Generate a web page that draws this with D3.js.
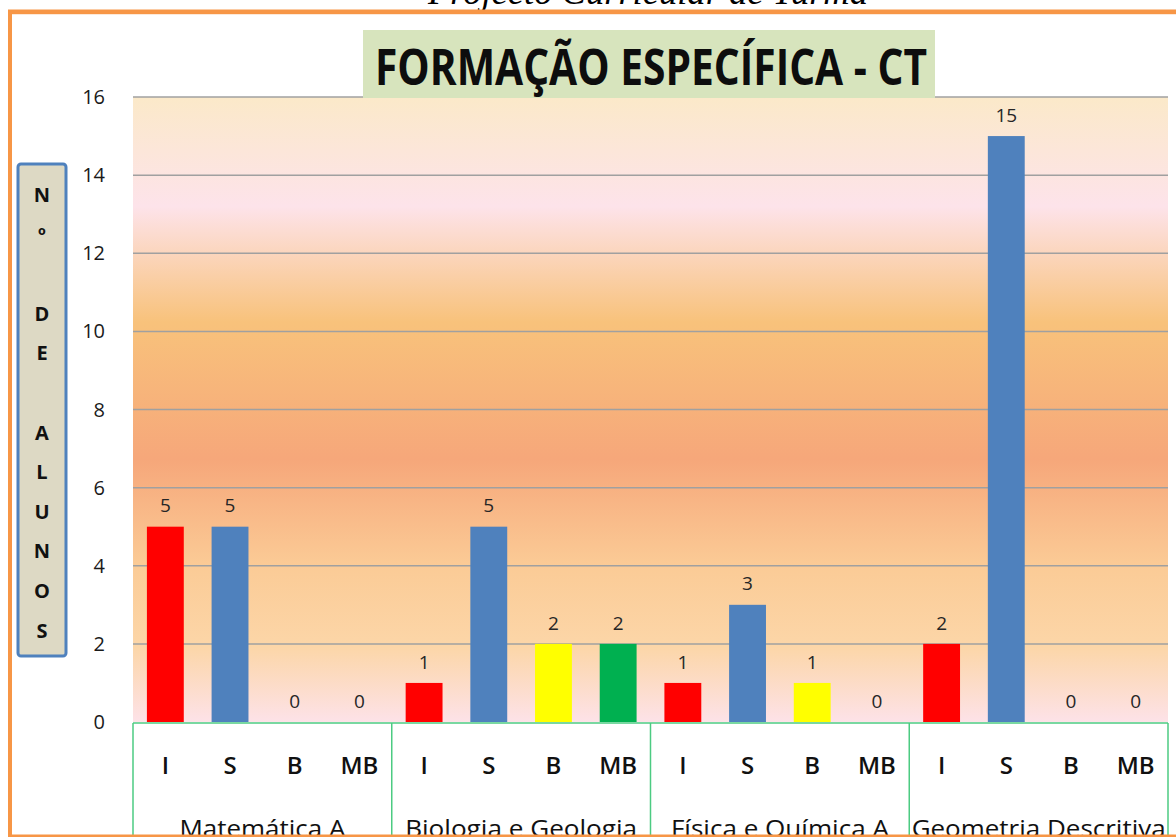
<!DOCTYPE html>
<html>
<head>
<meta charset="utf-8">
<script src="https://cdn.jsdelivr.net/npm/d3@7"></script>
<style>
  html, body { margin: 0; padding: 0; background: #fff; }
  svg { display: block; }
</style>
</head>
<body>
<svg id="chart" width="1176" height="837"></svg>
<script>
// chart data
const groups = ['Matemática A', 'Biologia e Geologia', 'Física e Química A', 'Geometria Descritiva'];
const levels = ['I', 'S', 'B', 'MB'];
const valuesI = [5, 1, 1, 2];
const valuesS = [5, 5, 3, 15];
const valuesB = [0, 2, 1, 0];
const valuesMB = [0, 2, 0, 0];
const yTicks = [0, 2, 4, 6, 8, 10, 12, 14, 16];
const yLabelLetters = ['N', 'º', '', 'D', 'E', '', 'A', 'L', 'U', 'N', 'O', 'S'];

const levelColor = { I: '#ff0000', S: '#4f81bd', B: '#ffff00', MB: '#00b050' };
const seriesByLevel = { I: valuesI, S: valuesS, B: valuesB, MB: valuesMB };

const rows = [];
groups.forEach((g, gi) => {
    levels.forEach((l) => {
        rows.push({ group: g, level: l, value: seriesByLevel[l][gi] });
    });
});

const svg = d3.select('#chart');
const plotLeft = 133, plotRight = 1168, plotTop = 97, plotBottom = 722;

const x0 = d3.scaleBand().domain(groups).range([plotLeft, plotRight]);
const x1 = d3.scaleBand().domain(levels).range([0, x0.bandwidth()])
    .paddingInner(0.43).paddingOuter(0.215);
const y = d3.scaleLinear().domain([0, 16]).range([plotBottom, plotTop]);

// background gradient of the plot area
const defs = svg.append('defs');
const grad = defs.append('linearGradient')
    .attr('id', 'bg')
    .attr('gradientUnits', 'userSpaceOnUse')
    .attr('x1', 0).attr('x2', 0).attr('y1', plotTop).attr('y2', plotBottom);
[
    [0, '#fbe9c9'], [0.175, '#fde3ea'], [0.36, '#f8c27b'], [0.58, '#f6a77a'],
    [0.75, '#fbcb96'], [0.88, '#fcd6a8'], [1, '#fde2e8']
].forEach(s => grad.append('stop').attr('offset', s[0]).attr('stop-color', s[1]));

// page header (cut by the top edge, as in the scan)
svg.append('text')
    .attr('x', 648).attr('y', 4)
    .attr('text-anchor', 'middle')
    .attr('font-family', '"Liberation Serif", "DejaVu Serif", serif')
    .attr('font-style', 'italic')
    .attr('font-size', 36)
    .attr('textLength', 440)
    .attr('lengthAdjust', 'spacingAndGlyphs')
    .text('Projecto Curricular de Turma');

// orange frame
svg.append('line').attr('x1', 8).attr('x2', 1176).attr('y1', 12).attr('y2', 12)
    .attr('stroke', '#f79646').attr('stroke-width', 5);
svg.append('line').attr('x1', 1176).attr('x2', 10).attr('y1', 14.5).attr('y2', 14.5)
    .attr('stroke', '#fde9d9').attr('stroke-width', 1);
svg.append('line').attr('x1', 10).attr('x2', 10).attr('y1', 10).attr('y2', 837)
    .attr('stroke', '#f79646').attr('stroke-width', 4);

// plot background
svg.append('rect')
    .attr('x', plotLeft).attr('y', plotTop)
    .attr('width', plotRight - plotLeft).attr('height', plotBottom - plotTop)
    .attr('fill', 'url(#bg)');

// grid lines
svg.append('g')
    .selectAll('line')
    .data(yTicks.filter(t => t > 0))
    .join('line')
    .attr('x1', plotLeft).attr('x2', plotRight)
    .attr('y1', d => y(d)).attr('y2', d => y(d))
    .attr('stroke', '#a0a0a0').attr('stroke-width', 1.5);

// y tick labels
svg.append('g')
    .selectAll('text')
    .data(yTicks)
    .join('text')
    .attr('x', 105)
    .attr('y', d => y(d))
    .attr('dy', '0.35em')
    .attr('text-anchor', 'end')
    .attr('font-family', '"Open Sans", sans-serif')
    .attr('font-size', 20)
    .attr('fill', '#1a1a1a')
    .text(d => d);

// bars
svg.append('g')
    .selectAll('rect')
    .data(rows.filter(d => d.value > 0))
    .join('rect')
    .attr('x', d => x0(d.group) + x1(d.level))
    .attr('y', d => y(d.value))
    .attr('width', x1.bandwidth())
    .attr('height', d => y(0) - y(d.value))
    .attr('fill', d => levelColor[d.level]);

// value labels
svg.append('g')
    .selectAll('text')
    .data(rows)
    .join('text')
    .attr('x', d => x0(d.group) + x1(d.level) + x1.bandwidth() / 2)
    .attr('y', d => y(d.value) - 21)
    .attr('dy', '0.35em')
    .attr('text-anchor', 'middle')
    .attr('font-family', '"Open Sans", sans-serif')
    .attr('font-size', 19)
    .attr('fill', '#262626')
    .text(d => d.value);

// title box
svg.append('rect')
    .attr('x', 363).attr('y', 30).attr('width', 572).attr('height', 68)
    .attr('fill', '#d7e4bd');
svg.append('text')
    .attr('x', 651).attr('y', 85)
    .attr('text-anchor', 'middle')
    .attr('font-family', '"Liberation Sans Narrow", "Open Sans", sans-serif')
    .attr('font-weight', 'bold')
    .attr('font-size', 50)
    .attr('textLength', 552)
    .attr('lengthAdjust', 'spacingAndGlyphs')
    .attr('fill', '#0d0d0d')
    .text('FORMAÇÃO ESPECÍFICA - CT');

// y axis label box
svg.append('rect')
    .attr('x', 18).attr('y', 164).attr('width', 48).attr('height', 492)
    .attr('rx', 3)
    .attr('fill', '#ddd9c4')
    .attr('stroke', '#4f81bd').attr('stroke-width', 3);
svg.append('g')
    .selectAll('text')
    .data(yLabelLetters)
    .join('text')
    .attr('x', 42)
    .attr('y', (d, i) => 195 + i * 39.6)
    .attr('dy', '0.35em')
    .attr('text-anchor', 'middle')
    .attr('font-family', '"Open Sans", sans-serif')
    .attr('font-weight', 'bold')
    .attr('font-size', 20)
    .attr('fill', '#111')
    .text(d => d);

// category axis (table style)
const axis = svg.append('g');
axis.append('rect')
    .attr('x', plotLeft).attr('y', plotBottom + 1)
    .attr('width', plotRight - plotLeft).attr('height', 837 - plotBottom)
    .attr('fill', '#fff');
axis.append('line')
    .attr('x1', plotLeft).attr('x2', plotRight)
    .attr('y1', plotBottom + 1).attr('y2', plotBottom + 1)
    .attr('stroke', '#4ccb82').attr('stroke-width', 1.5);
axis.selectAll('line.sep')
    .data(groups.map(g => x0(g)).concat([plotRight]))
    .join('line')
    .attr('class', 'sep')
    .attr('x1', d => d).attr('x2', d => d)
    .attr('y1', plotBottom + 1).attr('y2', 837)
    .attr('stroke', '#4ccb82').attr('stroke-width', 1.5);

axis.selectAll('text.lvl')
    .data(rows)
    .join('text')
    .attr('class', 'lvl')
    .attr('x', d => x0(d.group) + x1(d.level) + x1.bandwidth() / 2)
    .attr('y', 766)
    .attr('dy', '0.35em')
    .attr('text-anchor', 'middle')
    .attr('font-family', '"Open Sans", sans-serif')
    .attr('font-weight', 600)
    .attr('font-size', 24)
    .attr('fill', '#111')
    .text(d => d.level);

const groupWidths = [166, 232, 218, 254];
axis.selectAll('text.grp')
    .data(groups)
    .join('text')
    .attr('class', 'grp')
    .attr('x', d => x0(d) + x0.bandwidth() / 2)
    .attr('y', 837)
    .attr('text-anchor', 'middle')
    .attr('font-family', '"Open Sans", sans-serif')
    .attr('font-size', 24)
    .attr('textLength', (d, i) => groupWidths[i])
    .attr('lengthAdjust', 'spacingAndGlyphs')
    .attr('fill', '#111')
    .text(d => d);

// bottom orange frame line
svg.append('line').attr('x1', 8).attr('x2', 1176).attr('y1', 836).attr('y2', 836)
    .attr('stroke', '#f79646').attr('stroke-width', 3);
</script>
</body>
</html>
